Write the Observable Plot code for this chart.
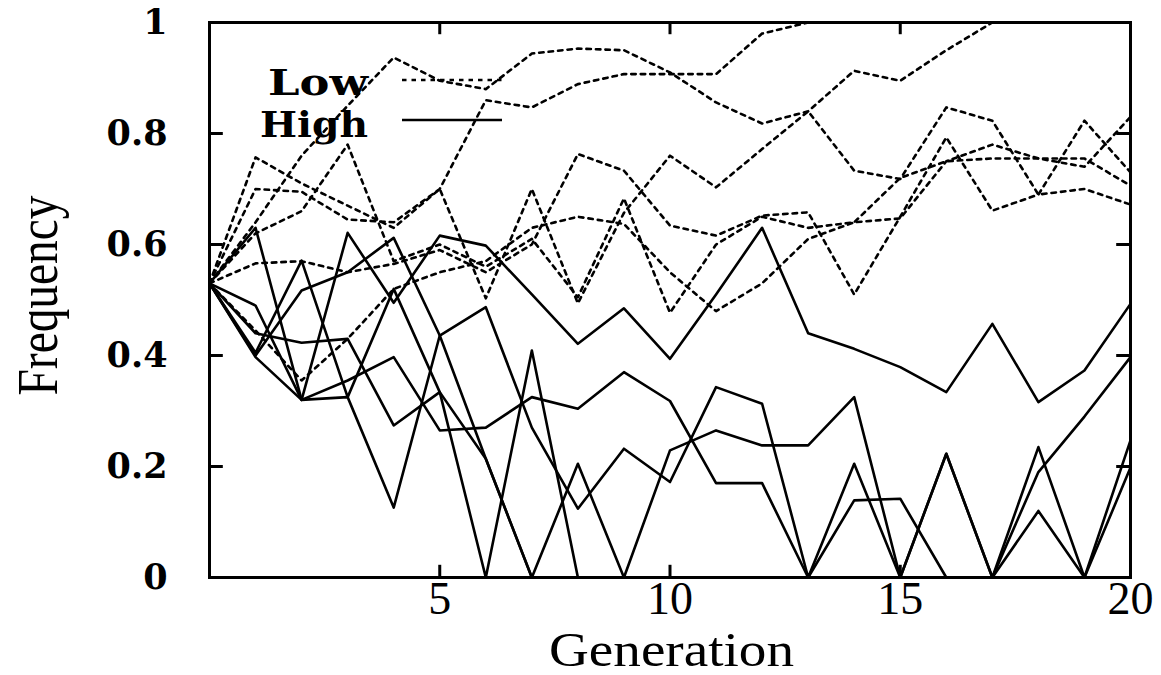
<!DOCTYPE html>
<html><head><meta charset="utf-8">
<script src="https://cdn.jsdelivr.net/npm/d3@7"></script>
<script src="https://cdn.jsdelivr.net/npm/@observablehq/plot@0.6"></script>
<style>
html,body{margin:0;padding:0;background:#fff;}
#chart{position:relative;width:1161px;height:675px;}
</style></head>
<body><div id="chart"></div>
<script>
const generations = [0,1,2,3,4,5,6,7,8,9,10,11,12,13,14,15,16,17,18,19,20];
const xTicks = [5,10,15,20];
const yTicks = [0,0.2,0.4,0.6,0.8,1];
const legendLabels = ["Low","High"];

// Low (dotted)
const low1 = [0.53,0.64,0.76,0.85,0.937,0.895,0.88,0.944,0.953,0.95,0.91,0.856,0.818,0.84,0.913,0.895,0.95,1,1,1,1];
const low2 = [0.53,0.70,0.695,0.645,0.64,0.70,0.86,0.847,0.889,0.907,0.907,0.907,0.98,1,1,1,1,1,1,1,1];
const low3 = [0.53,0.757,0.71,0.67,0.63,0.70,0.503,0.70,0.494,0.657,0.76,0.703,0.772,0.84,0.733,0.718,0.847,0.823,0.69,0.70,0.672];
const low4 = [0.53,0.566,0.57,0.55,0.565,0.59,0.55,0.60,0.763,0.733,0.634,0.616,0.652,0.658,0.51,0.65,0.793,0.661,0.69,0.823,0.73];
const low5 = [0.53,0.445,0.355,0.43,0.52,0.55,0.57,0.63,0.65,0.637,0.55,0.48,0.53,0.61,0.64,0.647,0.75,0.78,0.755,0.755,0.706];
const low6 = [0.53,0.62,0.66,0.78,0.57,0.60,0.56,0.61,0.505,0.683,0.477,0.60,0.65,0.63,0.64,0.72,0.75,0.755,0.755,0.74,0.83];

// High (solid)
const high1 = [0.53,0.40,0.517,0.55,0.612,0.436,0.487,0.27,0.124,0.232,0.172,0.343,0.313,0,0.205,0,0.223,0,0.12,0,0.198];
const high2 = [0.53,0.49,0.32,0.621,0.495,0.616,0.598,0.51,0.421,0.485,0.394,0.51,0.63,0.44,0.412,0.379,0.334,0.457,0.316,0.373,0.493];
const high3 = [0.53,0.63,0.32,0.355,0.397,0.265,0.27,0.325,0.304,0.37,0.318,0.17,0.17,0,0.139,0.142,0,0,0.19,0.29,0.397];
const high4 = [0.53,0.405,0.571,0.325,0.52,0.334,0.214,0,0,0,0,0,0,0,0,0,0,0,0,0,0];
const high5 = [0.53,0.44,0.423,0.43,0.274,0.334,0,0.409,0,0,0,0,0,0,0,0,0,0,0,0,0];
const high6 = [0.53,0.397,0.32,0.325,0.126,0.436,0.214,0,0.205,0,0.229,0.265,0.238,0.238,0.325,0,0.223,0,0.235,0,0.247];

const lowSeries = [low1,low2,low3,low4,low5,low6];
const highSeries = [high1,high2,high3,high4,high5,high6];

function rows(series, group) {
  const out = [];
  series.forEach((vals, i) => vals.forEach((v, j) => out.push({g: generations[j], f: v, s: group + i})));
  return out;
}
const lowRows = rows(lowSeries, "L");
const highRows = rows(highSeries, "H");

const serif = "'Liberation Serif', 'Times New Roman', serif";
const boldSerif = "'DejaVu Serif', serif";

const chart = Plot.plot({
  width: 1161,
  height: 675,
  marginLeft: 209,
  marginRight: 31,
  marginTop: 22,
  marginBottom: 98,
  x: {domain: [0, 20]},
  y: {domain: [0, 1]},
  style: {background: "#fff"},
  marks: [
    Plot.line(lowRows, {x: "g", y: "f", z: "s", stroke: "#000", strokeWidth: 2.6, strokeDasharray: "4.5,5", curve: "linear"}),
    Plot.line(highRows, {x: "g", y: "f", z: "s", stroke: "#000", strokeWidth: 2.6, curve: "linear"}),
    Plot.frame({stroke: "#000", strokeWidth: 3}),
    Plot.ruleX(xTicks.slice(0, 3), {y1: 0, y2: 0.022, stroke: "#000", strokeWidth: 3}),
    Plot.ruleX(xTicks.slice(0, 3), {y1: 1, y2: 0.978, stroke: "#000", strokeWidth: 3}),
    Plot.ruleY(yTicks.slice(1, 5), {x1: 0, x2: 0.3, stroke: "#000", strokeWidth: 3}),
    Plot.ruleY(yTicks.slice(1, 5), {x1: 20, x2: 19.7, stroke: "#000", strokeWidth: 3}),
    Plot.axisX(xTicks, {tickSize: 0, tickPadding: 4, fontSize: 46, fontFamily: serif, label: null}),
    Plot.axisY(yTicks, {tickSize: 0, tickPadding: 42, fontSize: 35, fontWeight: "bold", fontFamily: boldSerif, label: null,
      tickFormat: d => (d === 0 || d === 1) ? String(d) : d.toFixed(1)})
  ]
});

chart.style.position = "absolute";
chart.style.left = "0px";
chart.style.top = "0px";
const container = document.getElementById("chart");
container.appendChild(chart);

// titles and legend drawn into the plot's SVG, positioned from its scales
const xs = chart.scale("x"), ys = chart.scale("y");
const svg = d3.select(chart);
svg.append("text").text("Generation")
  .attr("x", (xs.apply(0) + xs.apply(20)) / 2 + 2).attr("y", 666)
  .attr("text-anchor", "middle").attr("font-family", serif).attr("font-size", 48)
  .attr("textLength", 245).attr("lengthAdjust", "spacingAndGlyphs").attr("fill", "#000");
svg.append("text").text("Frequency")
  .attr("transform", `translate(57,${(ys.apply(0) + ys.apply(1)) / 2 - 4}) rotate(-90)`)
  .attr("text-anchor", "middle").attr("font-family", serif).attr("font-size", 58)
  .attr("textLength", 200).attr("lengthAdjust", "spacingAndGlyphs").attr("fill", "#000");

// legend
const legendY = [80, 120];
const legendBase = [95, 137];
const legendWidths = [100, 108];
const styles = [{dash: "4.5,5"}, {dash: null}];
legendLabels.forEach((lab, i) => {
  svg.append("text").text(lab).attr("x", 368).attr("y", legendBase[i])
    .attr("text-anchor", "end").attr("font-family", boldSerif).attr("font-weight", "bold")
    .attr("font-size", 35).attr("textLength", legendWidths[i]).attr("lengthAdjust", "spacingAndGlyphs")
    .attr("fill", "#000");
  const ln = svg.append("line").attr("x1", 402).attr("x2", 502).attr("y1", legendY[i]).attr("y2", legendY[i])
    .attr("stroke", "#000").attr("stroke-width", 2.6);
  if (styles[i].dash) ln.attr("stroke-dasharray", styles[i].dash);
});
</script>
</body></html>
